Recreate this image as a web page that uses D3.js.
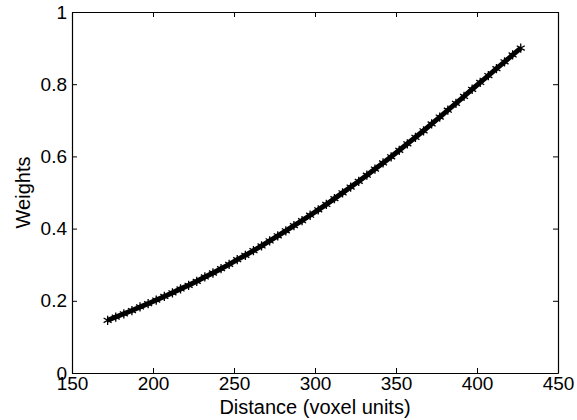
<!DOCTYPE html>
<html><head><meta charset="utf-8">
<script src="https://cdn.jsdelivr.net/npm/d3@7"></script>
<style>
html,body{margin:0;padding:0;background:#fff;}
text{font-family:"Liberation Sans",Arial,Helvetica,sans-serif;fill:#000;}
</style></head>
<body>
<svg id="chart" width="577" height="420"></svg>
<script>
const distances = [172,177,182,187,192,197,202,207,212,217,222,227,232,237,242,247,252,257,262,267,272,277,282,287,292,297,302,307,312,317,322,327,332,337,342,347,352,357,362,367,372,377,382,387,392,397,402,407,412,417,422,427];
const weights = [0.146,0.155,0.164,0.173,0.183,0.192,0.202,0.212,0.222,0.233,0.243,0.254,0.266,0.277,0.289,0.301,0.314,0.326,0.339,0.352,0.366,0.380,0.394,0.408,0.422,0.437,0.452,0.467,0.483,0.499,0.515,0.531,0.548,0.565,0.582,0.599,0.617,0.635,0.653,0.671,0.690,0.709,0.728,0.747,0.766,0.786,0.805,0.824,0.843,0.862,0.881,0.900];
const xTicks = [150,200,250,300,350,400,450];
const yTicks = [0,0.2,0.4,0.6,0.8,1];
const xLabel = "Distance (voxel units)";
const yLabel = "Weights";

const svg = d3.select("#chart");
const L=72,R=558,T=12,B=373;
const x = d3.scaleLinear().domain([150,450]).range([L,R]);
const y = d3.scaleLinear().domain([0,1]).range([B,T]);
const fs = 19;

function styleAxis(g){
  g.select(".domain").attr("stroke","#000").attr("stroke-width",1.2);
  g.selectAll(".tick line").attr("stroke","#000").attr("stroke-width",1);
  g.selectAll("text").style("font-size",fs+"px").attr("fill","#000");
}
const fmt = d => d3.format("~g")(d);

svg.append("g").attr("transform",`translate(0,${B})`)
  .call(d3.axisBottom(x).tickValues(xTicks).tickFormat(fmt).tickSizeInner(-5).tickSizeOuter(0).tickPadding(4))
  .call(styleAxis);
svg.append("g").attr("transform",`translate(0,${T})`)
  .call(d3.axisTop(x).tickValues(xTicks).tickFormat("").tickSizeInner(-5).tickSizeOuter(0))
  .call(styleAxis);
svg.append("g").attr("transform",`translate(${L},0)`)
  .call(d3.axisLeft(y).tickValues(yTicks).tickFormat(fmt).tickSizeInner(-5).tickSizeOuter(0).tickPadding(5))
  .call(styleAxis);
svg.append("g").attr("transform",`translate(${R},0)`)
  .call(d3.axisRight(y).tickValues(yTicks).tickFormat("").tickSizeInner(-5).tickSizeOuter(0))
  .call(styleAxis);

const data = distances.map((d,i)=>({d, w:weights[i]}));
svg.append("path").datum(data)
  .attr("fill","none").attr("stroke","#000").attr("stroke-width",5)
  .attr("d", d3.line().x(p=>x(p.d)).y(p=>y(p.w)));
const star = d3.symbol().type(d3.symbolAsterisk).size(60);
svg.append("g").selectAll("path").data(data).join("path")
  .attr("transform",p=>`translate(${x(p.d)},${y(p.w)})`)
  .attr("d",star).attr("fill","none").attr("stroke","#000").attr("stroke-width",1.3);

svg.append("text").attr("x",(L+R)/2).attr("y",414).attr("text-anchor","middle")
  .style("font-size","20px").text(xLabel);
svg.append("text").attr("transform",`translate(30,${(T+B)/2}) rotate(-90)`).attr("text-anchor","middle")
  .style("font-size","20px").text(yLabel);
</script>
</body></html>
